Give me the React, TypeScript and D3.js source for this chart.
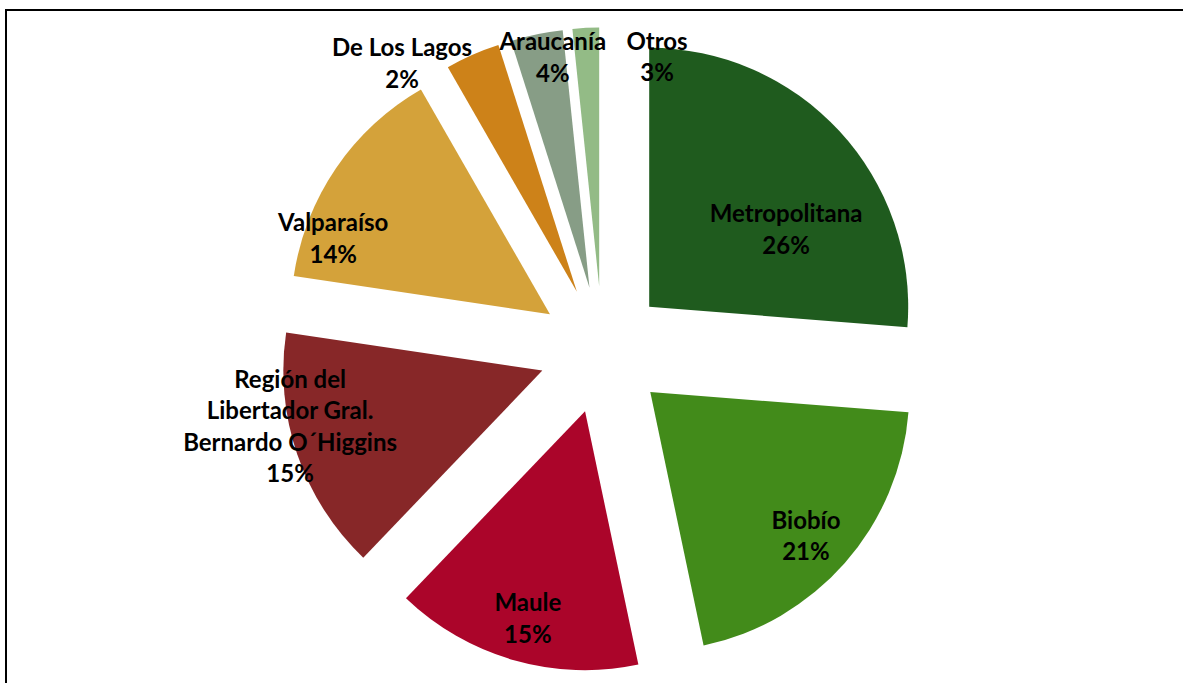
import * as d3 from "d3";
import { useEffect, useRef } from "react";

// slice order, clockwise from 12 o'clock
const regions = [
  "Metropolitana",
  "Biobío",
  "Maule",
  "Región del Libertador Gral. Bernardo O´Higgins",
  "Valparaíso",
  "De Los Lagos",
  "Araucanía",
  "Otros",
];
// label text broken the way the source wraps it
const labelLines = [
  ["Metropolitana"],
  ["Biobío"],
  ["Maule"],
  ["Región del", "Libertador Gral.", "Bernardo O´Higgins"],
  ["Valparaíso"],
  ["De Los Lagos"],
  ["Araucanía"],
  ["Otros"],
];
// share of each slice as drawn
const shares = [26.25, 20.45, 15.45, 15.2, 14.35, 3.4, 3.25, 1.65];
// percentages printed on the labels
const shownPct = [26, 21, 15, 15, 14, 2, 4, 3];
const colors = [
  "#1f5b1e",
  "#428b1a",
  "#ab052a",
  "#872728",
  "#d4a23a",
  "#cd8219",
  "#879d86",
  "#93bb86",
];
// label anchor around the pie centre: angle (deg, clockwise from top), radius (x R)
const labelAngle = [56.5, 132.3, 195.6, 256.4, 292.7, 325.1, 350.4, 10.5];
const labelRadius = [0.85, 1.062, 1.072, 1.241, 1.127, 1.353, 1.15, 1.155];

type Slice = { name: string; lines: string[]; share: number; pct: number; color: string; la: number; lr: number };

const data: Slice[] = regions.map((name, i) => ({
  name,
  lines: labelLines[i],
  share: shares[i],
  pct: shownPct[i],
  color: colors[i],
  la: labelAngle[i],
  lr: labelRadius[i],
}));

export default function App() {
  const ref = useRef<SVGSVGElement | null>(null);

  useEffect(() => {
    const el = ref.current;
    if (!el) return;
    const svg = d3.select(el);
    svg.selectAll("*").remove();

    const W = 1183;
    const H = 683;
    const cx = 602.5;
    const cy = 350;
    const R = 259;
    const explode = 63.6;

    svg.attr("width", W).attr("height", H).attr("viewBox", `0 0 ${W} ${H}`);

    // chart frame (only top and left edges show)
    svg
      .append("path")
      .attr("d", `M6,${H} V10 H${W}`)
      .attr("fill", "none")
      .attr("stroke", "#000")
      .attr("stroke-width", 2);

    const pie = d3
      .pie<Slice>()
      .sort(null)
      .value((d) => d.share);
    const arcs = pie(data);
    const arc = d3.arc<d3.PieArcDatum<Slice>>().innerRadius(0).outerRadius(R);

    const g = svg.append("g").attr("transform", `translate(${cx},${cy})`);

    g.selectAll("path.slice")
      .data(arcs)
      .join("path")
      .attr("class", "slice")
      .attr("fill", (d) => d.data.color)
      .attr("transform", (d) => {
        const mid = (d.startAngle + d.endAngle) / 2;
        return `translate(${Math.sin(mid) * explode},${-Math.cos(mid) * explode})`;
      })
      .attr("d", arc);

    const lineH = 31.5;
    const labels = g
      .selectAll("text.lbl")
      .data(arcs)
      .join("text")
      .attr("class", "lbl")
      .attr("text-anchor", "middle")
      .attr("font-family", "Lato, 'Open Sans', sans-serif")
      .attr("font-weight", 700)
      .attr("font-size", 24)
      .attr("fill", "#000")
      .attr("transform", (d) => {
        const a = (d.data.la * Math.PI) / 180;
        const r = d.data.lr * R;
        return `translate(${Math.sin(a) * r},${-Math.cos(a) * r})`;
      });

    labels.each(function (d) {
      const lines = [...d.data.lines, `${d.data.pct}%`];
      const n = lines.length;
      d3.select(this)
        .selectAll("tspan")
        .data(lines)
        .join("tspan")
        .attr("x", 0)
        .attr("y", (_, i) => (i - (n - 1) / 2) * lineH)
        .attr("dominant-baseline", "central")
        .text((t) => t);
    });
  }, []);

  return <svg ref={ref} style={{ position: "absolute", left: 0, top: 0, background: "#fff" }} />;
}
